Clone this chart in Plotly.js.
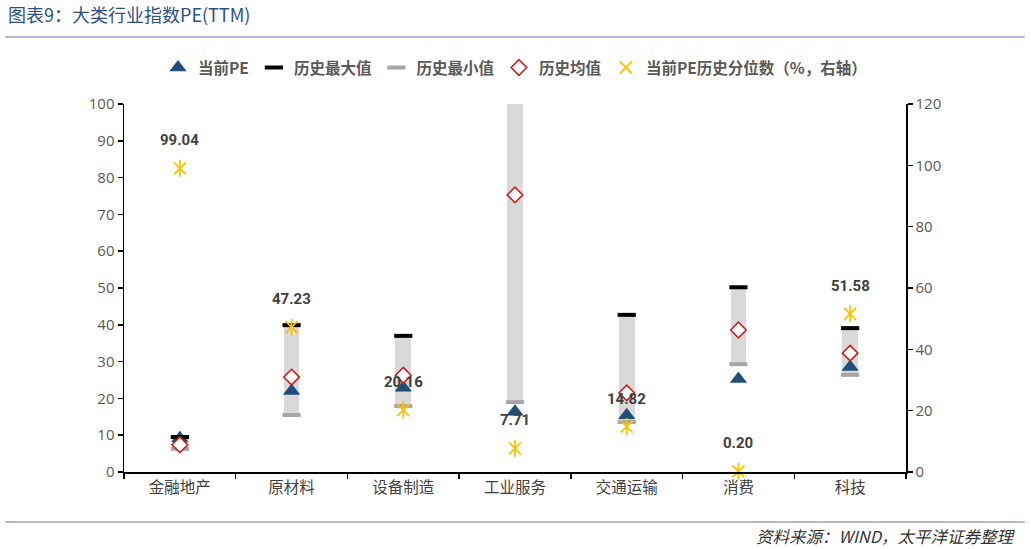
<!DOCTYPE html>
<html>
<head>
<meta charset="utf-8">
<script src="https://cdn.plot.ly/plotly-3.0.1.min.js"></script>
<style>
  html, body { margin: 0; padding: 0; background: #ffffff; }
  #chart { width: 1031px; height: 549px; }
</style>
</head>
<body>
<div id="chart"></div>
<script>
// data
const categories = ['金融地产', '原材料', '设备制造', '工业服务', '交通运输', '消费', '科技'];
const currentPE = [9.2, 22.0, 22.9, 16.4, 15.4, 25.3, 28.5];
const maxPE     = [9.5, 39.9, 37.0, 120.0, 42.7, 50.2, 39.1];
const minPE     = [6.3, 15.5, 17.9, 19.0, 13.6, 29.3, 26.4];
const meanPE    = [7.4, 25.8, 26.3, 75.3, 21.5, 38.6, 32.3];
const percentile = [99.04, 47.23, 20.16, 7.71, 14.82, 0.20, 51.58];
const percentileLabels = ['99.04', '47.23', '20.16', '7.71', '14.82', '0.20', '51.58'];

const COLORS = {
    TRI: '#1f4e79',
    MAX: '#000000',
    MIN: '#a6a6a6',
    RANGE: '#d9d9d9',
    MEAN: '#c9211e',
    STAR: '#ffc000',
    TEXT: '#595959',
    LABEL: '#404040',
    RULE: '#9d9dc6',
    TITLE: '#2c5282'
};
const CJK = '"Noto Sans CJK SC", "Noto Sans", sans-serif';

// grey range bar from min to max
const rangeTrace = {
    x: categories,
    y: maxPE.map((v, i) => v - minPE[i]),
    base: minPE,
    type: 'bar',
    width: 0.14,
    marker: { color: COLORS.RANGE },
    showlegend: false,
    hoverinfo: 'skip'
};

const triTrace = {
    x: categories, y: currentPE, name: '当前PE',
    type: 'scatter', mode: 'markers',
    marker: { symbol: 'triangle-up', size: 15, color: COLORS.TRI }
};

const maxTrace = {
    x: categories, y: maxPE, name: '历史最大值',
    type: 'scatter', mode: 'markers',
    marker: { symbol: 'line-ew', size: 13, line: { width: 4, color: COLORS.MAX } }
};

const minTrace = {
    x: categories, y: minPE, name: '历史最小值',
    type: 'scatter', mode: 'markers',
    marker: { symbol: 'line-ew', size: 13, line: { width: 4, color: COLORS.MIN } }
};

const meanTrace = {
    x: categories, y: meanPE, name: '历史均值',
    type: 'scatter', mode: 'markers',
    marker: { symbol: 'diamond', size: 12, color: '#ffffff', line: { width: 1.6, color: COLORS.MEAN } }
};

const starTrace = {
    x: categories, y: percentile, name: '当前PE历史分位数（%，右轴）',
    type: 'scatter', mode: 'markers', yaxis: 'y2', cliponaxis: false,
    marker: { symbol: 'x-thin', size: 12, line: { width: 1.8, color: COLORS.STAR } }
};

// vertical stroke to turn the x into a six-arm star
const starStem = {
    x: categories, y: percentile,
    type: 'scatter', mode: 'markers', yaxis: 'y2', cliponaxis: false,
    marker: { symbol: 'line-ns', size: 12, line: { width: 1.8, color: COLORS.STAR } },
    showlegend: false, hoverinfo: 'skip'
};

const labelAnnotations = categories.map((c, i) => ({
    x: c, y: percentile[i], xref: 'x', yref: 'y2',
    text: percentileLabels[i], showarrow: false,
    yshift: 28,
    font: { family: 'Roboto, "Liberation Sans", sans-serif', size: 15, color: COLORS.LABEL, weight: 'bold' }
}));

const layout = {
    width: 1031,
    height: 549,
    margin: { l: 124, r: 125, t: 104, b: 77, pad: 0 },
    paper_bgcolor: '#ffffff',
    plot_bgcolor: '#ffffff',
    title: {
        text: '图表9：大类行业指数PE(TTM)',
        font: { family: CJK, size: 18, color: COLORS.TITLE },
        xref: 'container', yref: 'container',
        x: 8 / 1031, xanchor: 'left',
        y: 1 - 16 / 549, yanchor: 'middle'
    },
    showlegend: true,
    legend: {
        orientation: 'h',
        x: 0.5, xanchor: 'center',
        y: 1.098, yanchor: 'middle',
        font: { family: CJK, size: 15.5, color: COLORS.TEXT, weight: 'bold' },
        itemwidth: 30,
        traceorder: 'normal'
    },
    bargap: 0,
    xaxis: {
        type: 'category',
        showline: true, linecolor: '#000000', linewidth: 2,
        ticks: 'outside', tickson: 'boundaries', ticklen: 5, tickwidth: 1.5, tickcolor: '#000000',
        tickfont: { family: CJK, size: 15.5, color: COLORS.LABEL },
        showgrid: false, zeroline: false, fixedrange: true
    },
    yaxis: {
        range: [0, 100], dtick: 10,
        showline: true, linecolor: '#000000', linewidth: 1.5,
        ticks: 'outside', ticklen: 5, tickwidth: 1.5, tickcolor: '#000000',
        tickfont: { family: '"Open Sans", sans-serif', size: 15, color: COLORS.TEXT },
        showgrid: false, zeroline: false
    },
    yaxis2: {
        overlaying: 'y', side: 'right',
        range: [0, 120], dtick: 20,
        showline: true, linecolor: '#000000', linewidth: 1.5,
        ticks: 'outside', ticklen: 5, tickwidth: 1.5, tickcolor: '#000000',
        tickfont: { family: '"Open Sans", sans-serif', size: 15, color: COLORS.TEXT },
        showgrid: false, zeroline: false
    },
    shapes: [
        { type: 'line', xref: 'paper', yref: 'paper', x0: -0.152, x1: 1.152, y0: 1.182, y1: 1.182,
          line: { color: COLORS.RULE, width: 1.5 } },
        { type: 'line', xref: 'paper', yref: 'paper', x0: -0.152, x1: 1.152, y0: -0.136, y1: -0.136,
          line: { color: COLORS.RULE, width: 1.5 } }
    ],
    annotations: labelAnnotations.concat([{
        xref: 'paper', yref: 'paper',
        x: 1.143, xanchor: 'right', y: -0.174, yanchor: 'middle',
        text: '资料来源：WIND，太平洋证券整理', showarrow: false,
        font: { family: CJK, size: 16.5, color: '#333333', style: 'italic' }
    }])
};

Plotly.newPlot('chart', [rangeTrace, triTrace, maxTrace, minTrace, meanTrace, starTrace, starStem], layout, {
    displayModeBar: false,
    staticPlot: true
});
</script>
</body>
</html>
